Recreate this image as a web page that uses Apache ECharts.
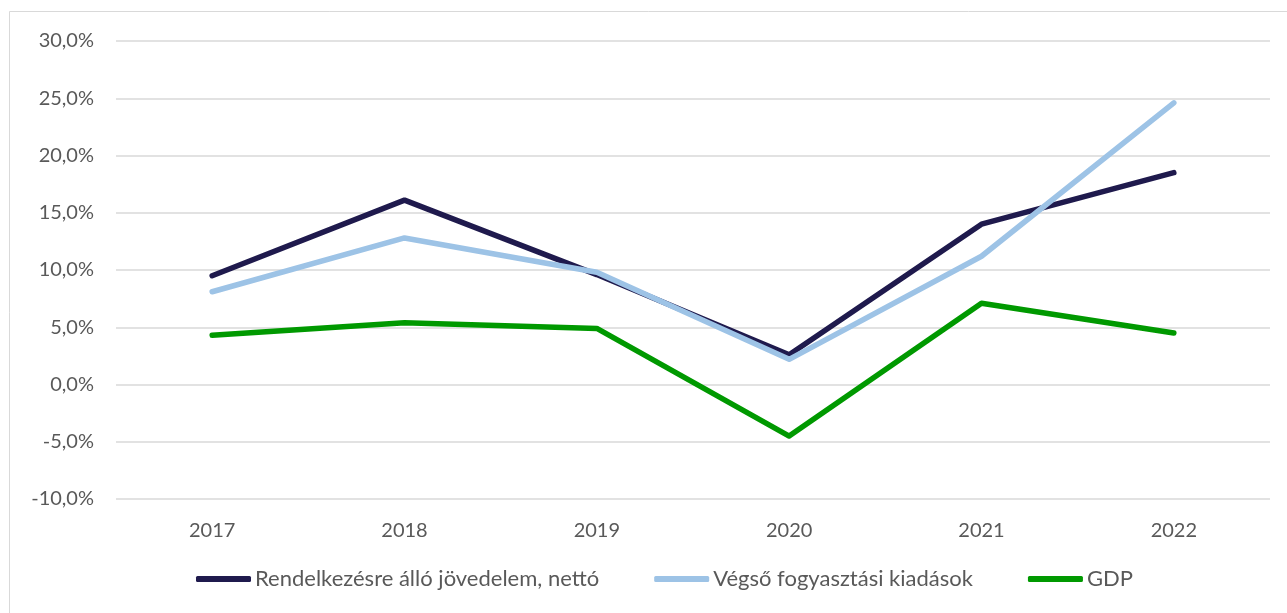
<!DOCTYPE html>
<html>
<head>
<meta charset="utf-8">
<script src="https://cdn.jsdelivr.net/npm/echarts@6/dist/echarts.min.js"></script>
<style>
  html, body { margin: 0; padding: 0; background: #fff; }
  #chart { width: 1287px; height: 613px; }
</style>
</head>
<body>
<div id="chart"></div>
<script>
// évek
var years = ['2017', '2018', '2019', '2020', '2021', '2022'];
// értékek (%)
var jovedelem = [9.5, 16.1, 9.6, 2.6, 14.0, 18.5];
var fogyasztas = [8.1, 12.8, 9.8, 2.2, 11.2, 24.6];
var gdp = [4.3, 5.4, 4.9, -4.5, 7.1, 4.5];
var seriesNames = ['Rendelkezésre álló jövedelem, nettó', 'Végső fogyasztási kiadások', 'GDP'];

var font = 'Lato, "Open Sans", sans-serif';
var myChart = echarts.init(document.getElementById('chart'));

function lineSeries(name, data, color) {
    return {
        name: name,
        type: 'line',
        data: data,
        symbol: 'none',
        lineStyle: { color: color, width: 5.5, cap: 'round', join: 'round' },
        itemStyle: { color: color },
        emphasis: { disabled: true }
    };
}

var option = {
    animation: false,
    backgroundColor: '#fff',
    graphic: [{
        type: 'rect',
        shape: { x: 9.5, y: 11.5, width: 1300, height: 620 },
        style: { fill: 'none', stroke: '#d9d9d9', lineWidth: 1 },
        silent: true
    }],
    grid: { left: 116, right: 17, top: 41, bottom: 114 },
    legend: {
        bottom: 18,
        left: 191,
        itemWidth: 55,
        itemHeight: 6,
        itemGap: 55,
        icon: 'roundRect',
        selectedMode: false,
        textStyle: { fontFamily: font, fontSize: 22, color: '#595959', padding: [0, 0, 0, -1] },
        data: seriesNames
    },
    xAxis: {
        type: 'category',
        data: years,
        boundaryGap: true,
        axisLine: { show: false },
        axisTick: { show: false },
        axisLabel: { fontFamily: font, fontSize: 20, color: '#595959', margin: 22 }
    },
    yAxis: {
        type: 'value',
        min: -10,
        max: 30,
        interval: 5,
        axisLine: { show: false },
        axisTick: { show: false },
        splitLine: { lineStyle: { color: '#d9d9d9', width: 1.5 } },
        axisLabel: {
            fontFamily: font, fontSize: 20, color: '#595959', margin: 22,
            formatter: function (v) { return v.toFixed(1).replace('.', ',') + '%'; }
        }
    },
    series: [
        lineSeries(seriesNames[0], jovedelem, '#1f1a4d'),
        lineSeries(seriesNames[1], fogyasztas, '#9dc3e6'),
        lineSeries(seriesNames[2], gdp, '#009900')
    ]
};

myChart.setOption(option);
</script>
</body>
</html>
